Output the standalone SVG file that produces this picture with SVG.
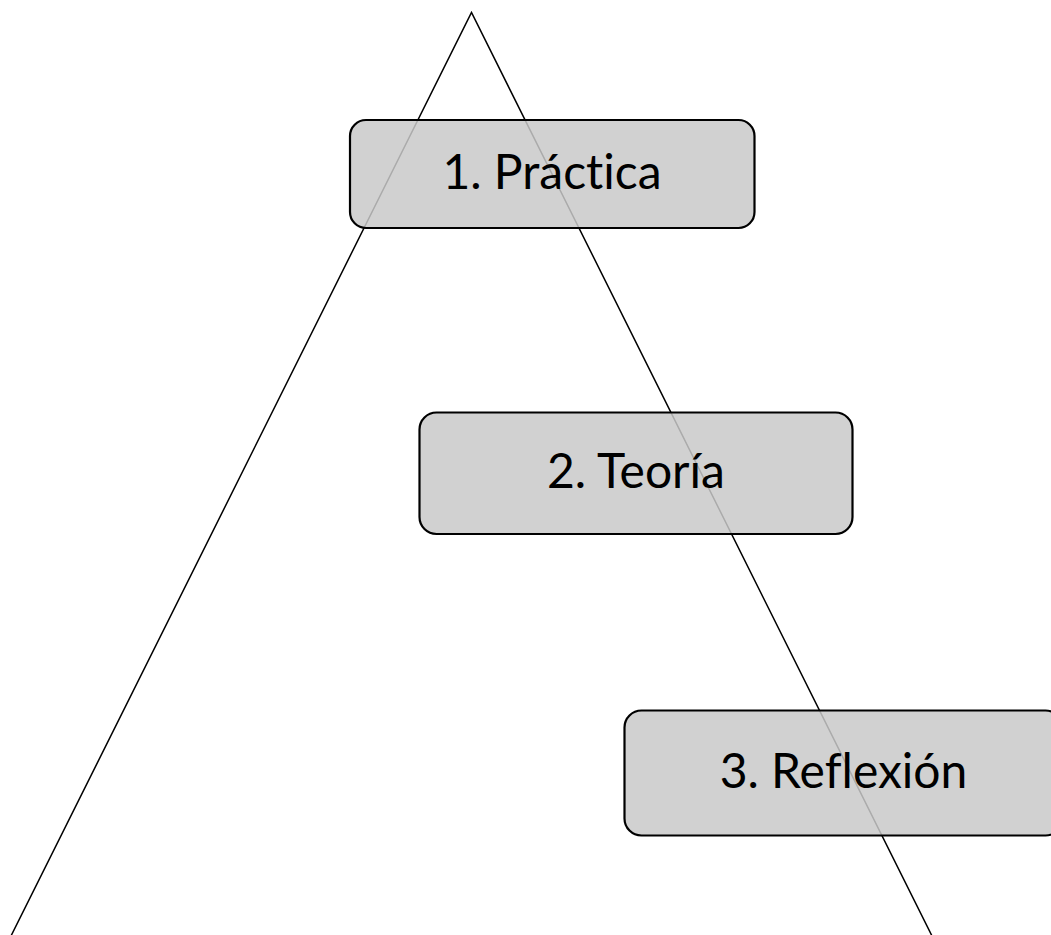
<svg xmlns="http://www.w3.org/2000/svg" width="1051" height="935" viewBox="0 0 1051 935">
<style>
.tri{fill:none;stroke:#000;stroke-width:1.5}
.box{fill:#c9c9c9;fill-opacity:0.85;stroke:#000;stroke-width:2.2}
.lbl{font-family:Lato,"Open Sans","Liberation Sans",sans-serif;font-size:48px;fill:#000;text-anchor:middle;font-variant-ligatures:none}
</style>
<rect width="1051" height="935" fill="#fff"/>
<g id="connectors">
<polyline class="tri" points="9,940 471.5,12.5 934,940"/>
</g>
<g id="node1">
<rect class="box" x="350" y="120" width="404.5" height="108" rx="16"/>
<text class="lbl" x="552" y="189">1. Práctica</text>
</g>
<g id="node2">
<rect class="box" x="419.5" y="412.5" width="433" height="121.5" rx="17"/>
<text class="lbl" x="636" y="488">2. Teoría</text>
</g>
<g id="node3">
<rect class="box" x="624.5" y="710.5" width="438" height="125" rx="17"/>
<text class="lbl" x="843.5" y="788">3. Reflexión</text>
</g>
</svg>
